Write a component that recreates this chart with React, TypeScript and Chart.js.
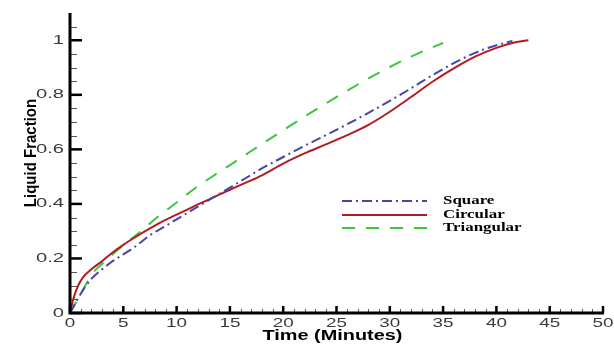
import React, { useEffect, useRef } from "react";
import { Chart, registerables } from "chart.js";

Chart.register(...registerables);

const seriesNames = ["Square", "Circular", "Triangular"];

const squareTime = [0, 0.5, 1, 1.5, 2, 3, 4, 5, 6, 7.5, 9, 10.5, 12, 13.5, 15, 16.5, 18, 20, 22, 24, 26, 28, 30, 32, 34, 36, 38, 40, 41.5];
const squareValue = [0, 0.035, 0.07, 0.1, 0.125, 0.16, 0.19, 0.215, 0.24, 0.285, 0.32, 0.355, 0.39, 0.425, 0.46, 0.495, 0.53, 0.572, 0.613, 0.652, 0.692, 0.734, 0.778, 0.824, 0.872, 0.916, 0.954, 0.982, 0.997];

const circularTime = [0, 0.3, 0.7, 1.2, 2, 3, 4, 5, 6, 7.5, 9, 10.5, 12, 13.5, 15, 16.5, 18, 20, 22, 24, 26, 28, 30, 32, 34, 36, 38, 40, 41.5, 43];
const circularValue = [0, 0.05, 0.095, 0.13, 0.16, 0.19, 0.222, 0.25, 0.275, 0.31, 0.342, 0.37, 0.398, 0.425, 0.452, 0.478, 0.505, 0.548, 0.585, 0.618, 0.652, 0.69, 0.738, 0.792, 0.848, 0.897, 0.94, 0.972, 0.99, 1.0];

const triangularTime = [0, 0.5, 1, 1.5, 2, 3, 4, 5, 6.5, 8, 10, 12, 14, 16, 18, 20, 22, 24, 26, 28, 30, 32, 33.5, 35];
const triangularValue = [0, 0.035, 0.07, 0.105, 0.14, 0.18, 0.215, 0.248, 0.295, 0.345, 0.405, 0.465, 0.517, 0.568, 0.62, 0.67, 0.72, 0.768, 0.815, 0.86, 0.902, 0.94, 0.966, 0.99];

const xTicks = [0, 5, 10, 15, 20, 25, 30, 35, 40, 45, 50];
const yTicks = [0, 0.2, 0.4, 0.6, 0.8, 1];
const yTickLabels = ["0", "0.2", "0.4", "0.6", "0.8", "1"];
const xTitle = "Time (Minutes)";
const yTitle = "Liquid Fraction";

const colors = ["#4646a8", "#b01c22", "#3ec43e"];
const dashes = [[10, 4, 2, 4], [], [13, 11]];

function toPoints(t: number[], v: number[]) {
  return t.map((x, i) => ({ x, y: v[i] }));
}

function stretchText(ctx: CanvasRenderingContext2D, text: string, x: number, y: number, font: string, sx: number, align: CanvasTextAlign, baseline: CanvasTextBaseline, color: string) {
  ctx.save();
  ctx.translate(x, y);
  ctx.scale(sx, 1);
  ctx.font = font;
  ctx.textAlign = align;
  ctx.textBaseline = baseline;
  ctx.fillStyle = color;
  ctx.fillText(text, 0, 0);
  ctx.restore();
}

const axesPlugin = {
  id: "customAxes",
  afterDraw(chart: any) {
    const ctx: CanvasRenderingContext2D = chart.ctx;
    const xs = chart.scales.x;
    const ys = chart.scales.y;
    const area = chart.chartArea;
    const x0 = xs.getPixelForValue(0);
    const y0 = ys.getPixelForValue(0);
    ctx.save();
    ctx.lineWidth = 1;
    ctx.strokeStyle = "#555";
    for (let k = 1; k <= 21; k++) {
      if (k % 4 === 0) continue;
      const py = Math.round(ys.getPixelForValue(k * 0.05)) + 0.5;
      ctx.beginPath();
      ctx.moveTo(x0, py);
      ctx.lineTo(x0 + 7, py);
      ctx.stroke();
    }
    for (let k = 1; k < 50; k++) {
      if (k % 5 === 0) continue;
      const px = Math.round(xs.getPixelForValue(k)) + 0.5;
      ctx.beginPath();
      ctx.moveTo(px, y0);
      ctx.lineTo(px, y0 - 4);
      ctx.stroke();
    }
    ctx.strokeStyle = "#000";
    ctx.lineWidth = 2.5;
    yTicks.forEach((v) => {
      const py = ys.getPixelForValue(v);
      ctx.beginPath();
      ctx.moveTo(x0, py);
      ctx.lineTo(x0 + 12, py);
      ctx.stroke();
    });
    xTicks.forEach((v) => {
      const px = xs.getPixelForValue(v);
      ctx.beginPath();
      ctx.moveTo(px, y0);
      ctx.lineTo(px, y0 - 7);
      ctx.stroke();
    });
    ctx.lineWidth = 3;
    ctx.beginPath();
    ctx.moveTo(x0, area.top);
    ctx.lineTo(x0, y0);
    ctx.lineTo(xs.getPixelForValue(50) + 1, y0);
    ctx.stroke();
    ctx.restore();

    yTicks.forEach((v, i) => {
      stretchText(ctx, yTickLabels[i], 64, ys.getPixelForValue(v), "13px 'Liberation Sans', Arial, sans-serif", 1.55, "right", "middle", "#3a3a3a");
    });
    xTicks.forEach((v) => {
      stretchText(ctx, String(v), xs.getPixelForValue(v), y0 + 10, "13px 'Liberation Sans', Arial, sans-serif", 1.45, "center", "middle", "#3a3a3a");
    });
    stretchText(ctx, xTitle, (xs.getPixelForValue(0) + xs.getPixelForValue(50)) / 2 - 4, y0 + 23, "bold 14px 'Liberation Sans', Arial, sans-serif", 1.42, "center", "middle", "#000");
    ctx.save();
    ctx.translate(31, 153);
    ctx.rotate(-Math.PI / 2);
    ctx.scale(1, 1.1);
    ctx.font = "bold 15px 'Liberation Sans', Arial, sans-serif";
    ctx.textAlign = "center";
    ctx.textBaseline = "middle";
    ctx.fillStyle = "#000";
    ctx.fillText(yTitle, 0, 0);
    ctx.restore();

    const rows = [201, 215, 228];
    seriesNames.forEach((name, i) => {
      ctx.save();
      ctx.strokeStyle = colors[i];
      ctx.lineWidth = 2;
      ctx.setLineDash(dashes[i]);
      ctx.beginPath();
      ctx.moveTo(342, rows[i]);
      ctx.lineTo(427, rows[i]);
      ctx.stroke();
      ctx.restore();
      stretchText(ctx, name, 443, rows[i], "bold 13px 'Liberation Serif', 'Times New Roman', serif", 1.3, "left", "middle", "#000");
    });
  },
};

export default function App() {
  const ref = useRef<HTMLCanvasElement | null>(null);
  useEffect(() => {
    if (!ref.current) return;
    const series = [
      toPoints(squareTime, squareValue),
      toPoints(circularTime, circularValue),
      toPoints(triangularTime, triangularValue),
    ];
    const chart = new Chart(ref.current, {
      type: "line",
      data: {
        datasets: series.map((d, i) => ({
          label: seriesNames[i],
          data: d,
          borderColor: colors[i],
          borderWidth: 2,
          borderDash: dashes[i],
          pointRadius: 0,
          fill: false,
          cubicInterpolationMode: "monotone" as const,
        })),
      },
      options: {
        responsive: false,
        animation: false,
        layout: { padding: { left: 70, top: 13, right: 11, bottom: 32 } },
        plugins: { legend: { display: false }, tooltip: { enabled: false } },
        scales: {
          x: { type: "linear", min: 0, max: 50, display: false },
          y: { type: "linear", min: 0, max: 1.1, display: false },
        },
      },
      plugins: [axesPlugin],
    });
    return () => chart.destroy();
  }, []);
  return (
    <div style={{ position: "absolute", left: 0, top: 0, width: 614, height: 345, background: "#fff" }}>
      <canvas ref={ref} width={614} height={345} style={{ display: "block" }} />
    </div>
  );
}
